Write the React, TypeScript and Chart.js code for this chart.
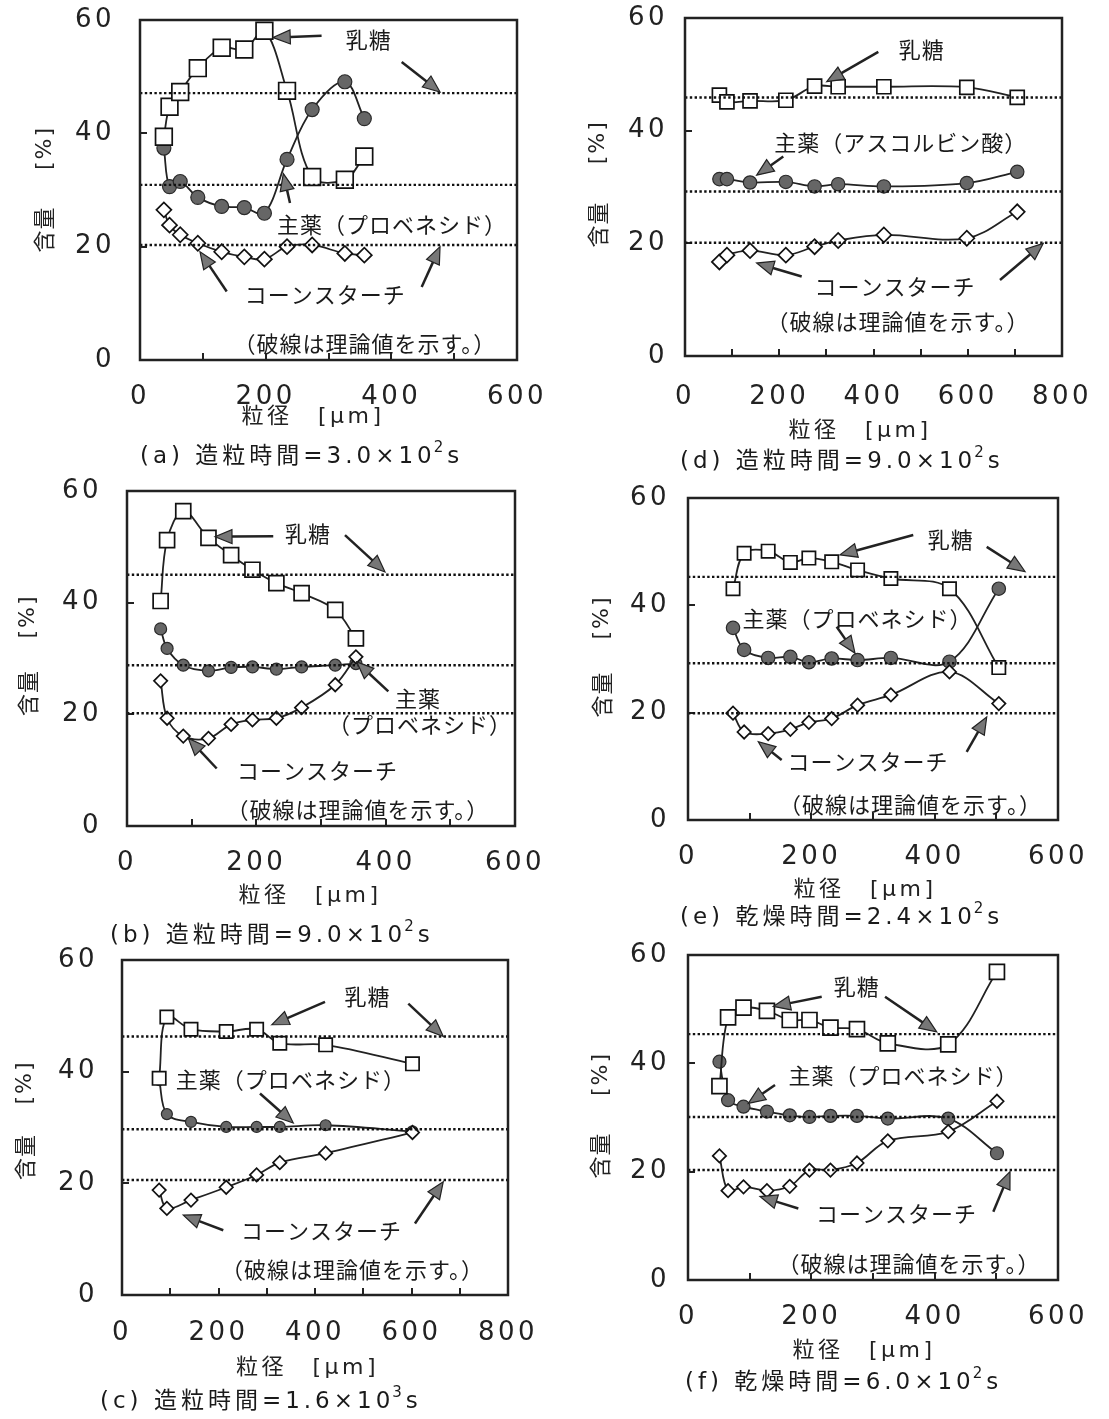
import React, { useEffect, useRef } from 'react';
import { Chart, registerables } from 'chart.js';

Chart.register(...registerables);

// ------------------------------------------------------------------
// Data. x = particle size [µm], y = content [%]
// ------------------------------------------------------------------

// (a) 造粒時間 3.0×10^2 s
const sizeA = [38, 47, 64, 92, 130, 166, 198, 234, 274, 326, 357];
const lactoseA = [39.4, 44.7, 47.3, 51.5, 55.1, 54.8, 58.1, 47.5, 32.3, 31.8, 35.9];
const drugA = [37.4, 30.6, 31.5, 28.7, 27.1, 26.9, 25.9, 35.4, 44.2, 49.1, 42.6];
const starchA = [26.5, 23.8, 22.1, 20.6, 19.1, 18.2, 17.8, 20.0, 20.3, 18.8, 18.5];
const theoryA = [47.1, 30.9, 20.3];

// (b) 造粒時間 9.0×10^2 s
const sizeB = [52, 62, 87, 126, 161, 194, 231, 270, 322, 354];
const lactoseB = [40.3, 51.2, 56.4, 51.6, 48.5, 45.9, 43.5, 41.7, 38.7, 33.6];
const drugB = [35.3, 31.8, 28.8, 27.8, 28.4, 28.5, 28.1, 28.5, 28.8, 29.1];
const starchB = [26.0, 19.3, 16.1, 15.7, 18.2, 19.0, 19.3, 21.2, 25.3, 30.3];
const theoryB = [45.0, 28.8, 20.2];

// (c) 造粒時間 1.6×10^3 s
const sizeC = [77, 93, 143, 216, 279, 327, 422, 602];
const lactoseC = [38.8, 49.8, 47.6, 47.2, 47.6, 45.1, 44.8, 41.4];
const drugC = [38.5, 32.4, 31.0, 30.1, 30.1, 30.1, 30.4, 29.3];
const starchC = [18.8, 15.5, 17.0, 19.3, 21.5, 23.7, 25.4, 29.1];
const theoryC = [46.3, 29.7, 20.6];

// (d) 造粒時間 9.0×10^2 s (アスコルビン酸)
const sizeD = [73, 89, 138, 214, 275, 325, 422, 598, 705];
const lactoseD = [46.3, 45.1, 45.3, 45.4, 47.9, 47.8, 47.8, 47.7, 45.9];
const drugD = [31.4, 31.4, 30.8, 30.9, 30.1, 30.5, 30.1, 30.7, 32.7];
const starchD = [16.7, 17.9, 18.7, 17.9, 19.4, 20.5, 21.5, 20.9, 25.6];
const theoryD = [45.9, 29.2, 20.1];

// (e) 乾燥時間 2.4×10^2 s
const sizeE = [73, 91, 130, 166, 196, 233, 275, 329, 424, 504];
const lactoseE = [43.1, 49.7, 50.1, 48.0, 48.8, 48.1, 46.6, 45.0, 43.1, 28.4];
const drugE = [35.8, 31.7, 30.2, 30.4, 29.4, 30.1, 29.8, 30.2, 29.5, 43.1];
const starchE = [19.9, 16.4, 16.1, 16.9, 18.2, 18.9, 21.4, 23.3, 27.6, 21.7];
const theoryE = [45.3, 29.2, 19.9];

// (f) 乾燥時間 6.0×10^2 s
const sizeF = [51, 65, 90, 128, 165, 197, 231, 274, 324, 422, 501];
const lactoseF = [35.8, 48.5, 50.3, 49.7, 48.0, 48.0, 46.6, 46.3, 43.7, 43.5, 56.9];
const drugF = [40.3, 33.2, 32.0, 31.1, 30.4, 30.1, 30.3, 30.3, 29.8, 29.8, 23.4];
const starchF = [22.9, 16.5, 17.2, 16.5, 17.3, 20.3, 20.3, 21.6, 25.7, 27.4, 33.0];
const theoryF = [45.4, 30.1, 20.3];

// Texts
const Y_TITLE_WORD = '含量';
const Y_TITLE_UNIT = '[%]';
const X_TITLE = '粒径　[μm]';
const T_LACTOSE = '乳糖';
const T_PROBENECID = '主薬（プロベネシド）';
const T_ASCORBIC = '主薬（アスコルビン酸）';
const T_STARCH = 'コーンスターチ';
const T_NOTE = '（破線は理論値を示す。）';

// ------------------------------------------------------------------
type Note = { text: string; x: number; y: number };
type Arrow = [number, number, number, number];

const panels = [
  {
    id: 'a', xs: sizeA, lactose: lactoseA, drug: drugA, starch: starchA, theory: theoryA, xMax: 600,
    caption: ['(a) 造粒時間=3.0×10', '2', 's'],
    notes: [
      { text: T_LACTOSE, x: 364, y: 56.5 },
      { text: T_PROBENECID, x: 401, y: 23.8 },
      { text: T_STARCH, x: 295, y: 11.6 },
      { text: T_NOTE, x: 358, y: 2.8 },
    ] as Note[],
    arrows: [
      [289, 57.2, 212, 56.9], [416.5, 52.6, 477.5, 47.3], [238.7, 27.7, 228.1, 32.9],
      [138, 12.1, 95.5, 19.1], [448.3, 12.9, 477.5, 20.0],
    ] as Arrow[],
    geom: { left: 0, top: 0, width: 560, height: 480, boxL: 140, boxT: 20, boxR: 517, boxB: 360 },
    pads: { xTick: 28.4, yTick: 32 },
    xTitle: { dx: 173, dy: 57 },
    yTitle: { dx: -96, unitDy: 129, wordDy: 210 },
    cap: { dx: 0, dy: 97 },
    marker: { sq: 11.8, dia: 7.5, dot: 7 },
  },
  {
    id: 'b', xs: sizeB, lactose: lactoseB, drug: drugB, starch: starchB, theory: theoryB, xMax: 600,
    caption: ['(b) 造粒時間=9.0×10', '2', 's'],
    notes: [
      { text: T_LACTOSE, x: 280, y: 52.3 },
      { text: '主薬', x: 450, y: 22.9 },
      { text: '（プロベネシド）', x: 453, y: 18.1 },
      { text: T_STARCH, x: 294.4, y: 9.85 },
      { text: T_NOTE, x: 357, y: 3.0 },
    ] as Note[],
    arrows: [
      [226.2, 51.9, 136.1, 51.8], [337.1, 52.1, 399, 45.5], [404.1, 24.1, 355.2, 29.4],
      [138.7, 10.3, 94.8, 15.7],
    ] as Arrow[],
    geom: { left: 0, top: 471, width: 560, height: 480, boxL: 127, boxT: 491, boxR: 515, boxB: 826 },
    pads: { xTick: 28.4, yTick: 32 },
    xTitle: { dx: 183, dy: 70.7 },
    yTitle: { dx: -99.5, unitDy: 126.5, wordDy: 202.5 },
    cap: { dx: -17, dy: 109.7 },
    marker: { sq: 10.6, dia: 6.7, dot: 6 },
  },
  {
    id: 'c', xs: sizeC, lactose: lactoseC, drug: drugC, starch: starchC, theory: theoryC, xMax: 800,
    caption: ['(c) 造粒時間=1.6×10', '3', 's'],
    notes: [
      { text: T_LACTOSE, x: 508.8, y: 53.4 },
      { text: T_PROBENECID, x: 350, y: 38.5 },
      { text: T_STARCH, x: 413.5, y: 11.6 },
      { text: T_NOTE, x: 477.7, y: 4.5 },
    ] as Note[],
    arrows: [
      [420.7, 52.5, 310.3, 48.4], [593.4, 52.2, 665.9, 46.3], [286, 36.1, 355, 30.8],
      [209.9, 11.6, 127, 14.3], [607.2, 12.8, 665.9, 20.3],
    ] as Arrow[],
    geom: { left: 0, top: 940, width: 560, height: 475, boxL: 122, boxT: 960, boxR: 508, boxB: 1295 },
    pads: { xTick: 29.4, yTick: 31 },
    xTitle: { dx: 185.5, dy: 73 },
    yTitle: { dx: -97.5, unitDy: 123.5, wordDy: 197.5 },
    cap: { dx: -22, dy: 106.7 },
    marker: { sq: 9.4, dia: 6.7, dot: 5.5 },
  },
  {
    id: 'd', xs: sizeD, lactose: lactoseD, drug: drugD, starch: starchD, theory: theoryD, xMax: 800,
    caption: ['(d) 造粒時間=9.0×10', '2', 's'],
    notes: [
      { text: T_LACTOSE, x: 502.3, y: 54.3 },
      { text: T_ASCORBIC, x: 458, y: 37.8 },
      { text: T_STARCH, x: 445.6, y: 12.3 },
      { text: T_NOTE, x: 452, y: 6.1 },
    ] as Note[],
    arrows: [
      [410.2, 54.0, 300.7, 48.7], [208.6, 35.4, 152.1, 32.1],
      [247.6, 14.1, 152.1, 16.5], [668.4, 13.5, 760.3, 20.0],
    ] as Arrow[],
    geom: { left: 570, top: 0, width: 539, height: 476, boxL: 685, boxT: 18, boxR: 1062, boxB: 356 },
    pads: { xTick: 32.4, yTick: 24 },
    xTitle: { dx: 175, dy: 75.7 },
    yTitle: { dx: -87.5, unitDy: 125.3, wordDy: 207 },
    cap: { dx: -5, dy: 105.7 },
    marker: { sq: 9.9, dia: 7.5, dot: 6.7 },
  },
  {
    id: 'e', xs: sizeE, lactose: lactoseE, drug: drugE, starch: starchE, theory: theoryE, xMax: 600,
    caption: ['(e) 乾燥時間=2.4×10', '2', 's'],
    notes: [
      { text: T_LACTOSE, x: 426.2, y: 52.2 },
      { text: T_PROBENECID, x: 275, y: 37.6 },
      { text: T_STARCH, x: 291.9, y: 10.9 },
      { text: T_NOTE, x: 360.8, y: 2.8 },
    ] as Note[],
    arrows: [
      [365.3, 53.1, 246.5, 49.4], [484.4, 50.9, 546.5, 46.3], [241.1, 36.0, 270.8, 31.1],
      [151.9, 11.2, 114, 14.6], [451.9, 12.7, 484.4, 19.2],
    ] as Arrow[],
    geom: { left: 570, top: 478, width: 539, height: 462, boxL: 688, boxT: 498, boxR: 1058, boxB: 820 },
    pads: { xTick: 28.4, yTick: 25 },
    xTitle: { dx: 177, dy: 70 },
    yTitle: { dx: -86.5, unitDy: 120.5, wordDy: 197 },
    cap: { dx: -8, dy: 98 },
    marker: { sq: 9.4, dia: 6.7, dot: 6.7 },
  },
  {
    id: 'f', xs: sizeF, lactose: lactoseF, drug: drugF, starch: starchF, theory: theoryF, xMax: 600,
    caption: ['(f) 乾燥時間=6.0×10', '2', 's'],
    notes: [
      { text: T_LACTOSE, x: 273.6, y: 54.1 },
      { text: T_PROBENECID, x: 349.5, y: 37.8 },
      { text: T_STARCH, x: 338.1, y: 12.2 },
      { text: T_NOTE, x: 358.4, y: 3.1 },
    ] as Note[],
    arrows: [
      [216.8, 52.3, 138.3, 50.5], [319.5, 52.3, 403.3, 45.8], [141.1, 36.0, 97.8, 32.6],
      [178.9, 13.2, 116.8, 15.4], [495.1, 12.6, 522.2, 20.0],
    ] as Arrow[],
    geom: { left: 570, top: 935, width: 539, height: 465, boxL: 688, boxT: 955, boxR: 1058, boxB: 1280 },
    pads: { xTick: 28.4, yTick: 25 },
    xTitle: { dx: 176, dy: 71.7 },
    yTitle: { dx: -88, unitDy: 120, wordDy: 201 },
    cap: { dx: -3, dy: 103 },
    marker: { sq: 10.6, dia: 6.7, dot: 6.5 },
  },
];

type Panel = typeof panels[number];

const INK = '#222';
const JP = '"Noto Sans CJK JP"';
const NUM = '"DejaVu Sans"';

function drawArrow(ctx: CanvasRenderingContext2D, x1: number, y1: number, x2: number, y2: number) {
  const ang = Math.atan2(y2 - y1, x2 - x1);
  const hl = 17;
  const hw = 7;
  const bx = x2 - hl * Math.cos(ang);
  const by = y2 - hl * Math.sin(ang);
  ctx.beginPath();
  ctx.moveTo(x1, y1);
  ctx.lineTo(bx, by);
  ctx.lineWidth = 2.5;
  ctx.strokeStyle = INK;
  ctx.stroke();
  ctx.beginPath();
  ctx.moveTo(x2, y2);
  ctx.lineTo(bx + hw * Math.sin(ang), by - hw * Math.cos(ang));
  ctx.lineTo(bx - hw * Math.sin(ang), by + hw * Math.cos(ang));
  ctx.closePath();
  ctx.fillStyle = '#777';
  ctx.fill();
  ctx.lineWidth = 1.2;
  ctx.stroke();
}

// vertical (rotated -90°) text; `lift` = distance of the glyph centre above the alphabetic baseline
function drawVertical(
  ctx: CanvasRenderingContext2D, text: string, font: string, spacing: number,
  lift: number, cx: number, cy: number,
) {
  ctx.save();
  (ctx as any).letterSpacing = spacing + 'px';
  ctx.font = font;
  ctx.translate(cx, cy);
  ctx.rotate(-Math.PI / 2);
  ctx.textAlign = 'left';
  ctx.textBaseline = 'alphabetic';
  const w = ctx.measureText(text).width - spacing;
  ctx.fillStyle = INK;
  ctx.fillText(text, -w / 2, lift);
  ctx.restore();
}

function PanelChart({ p }: { p: Panel }) {
  const ref = useRef<HTMLCanvasElement>(null);
  const g = p.geom;

  useEffect(() => {
    const canvas = ref.current;
    if (!canvas) return;
    const yAxisW = g.boxL - g.left;
    const xAxisH = g.top + g.height - g.boxB;

    const pts = (ys: number[]) => p.xs.map((x, i) => ({ x, y: ys[i] }));

    const seriesBase = {
      borderColor: '#222',
      borderWidth: 1.8,
      tension: 0.35,
      fill: false,
      pointBorderColor: '#111',
    };

    const theoryDatasets = p.theory.map((v) => ({
      type: 'line' as const,
      data: [{ x: 0, y: v }, { x: p.xMax, y: v }],
      borderColor: '#111',
      borderWidth: 2.4,
      borderDash: [2.4, 2.4],
      pointRadius: 0,
      tension: 0,
      fill: false,
      order: -1,
    }));

    const decor = {
      id: 'decor' + p.id,
      beforeDraw(chart: any) {
        (chart.ctx as any).letterSpacing = '3.5px';
      },
      afterDatasetsDraw(chart: any) {
        const { ctx, chartArea: a } = chart;
        ctx.save();
        ctx.lineWidth = 2.5;
        ctx.strokeStyle = INK;
        ctx.strokeRect(a.left, a.top, a.right - a.left, a.bottom - a.top);
        ctx.restore();
      },
      afterDraw(chart: any) {
        const ctx: CanvasRenderingContext2D = chart.ctx;
        const xs = chart.scales.x;
        const ys = chart.scales.y;
        const a = chart.chartArea;
        ctx.save();
        // y-axis title (vertical)
        const tx = a.left + p.yTitle.dx;
        drawVertical(ctx, Y_TITLE_UNIT, `22px ${NUM}`, 2, 6.8, tx, a.top + p.yTitle.unitDy);
        drawVertical(ctx, Y_TITLE_WORD, `22px ${JP}`, 1, 8.4, tx, a.top + p.yTitle.wordDy);
        // x-axis title
        (ctx as any).letterSpacing = '3.5px';
        ctx.font = `22px ${NUM}, ${JP}`;
        ctx.fillStyle = INK;
        ctx.textAlign = 'center';
        ctx.textBaseline = 'middle';
        ctx.fillText(X_TITLE, a.left + p.xTitle.dx, a.bottom + p.xTitle.dy);
        // arrows
        for (const [x1, y1, x2, y2] of p.arrows) {
          drawArrow(ctx, xs.getPixelForValue(x1), ys.getPixelForValue(y1), xs.getPixelForValue(x2), ys.getPixelForValue(y2));
        }
        // labels
        (ctx as any).letterSpacing = '1px';
        ctx.font = `22px ${JP}`;
        ctx.fillStyle = '#1a1a1a';
        ctx.textAlign = 'center';
        ctx.textBaseline = 'middle';
        for (const n of p.notes) {
          ctx.fillText(n.text, xs.getPixelForValue(n.x), ys.getPixelForValue(n.y));
        }
        // caption
        (ctx as any).letterSpacing = '4px';
        ctx.textAlign = 'left';
        let cx = a.left + p.cap.dx;
        const cy = a.bottom + p.cap.dy;
        const bigFont = `23px ${NUM}, ${JP}`;
        ctx.font = bigFont;
        ctx.fillText(p.caption[0], cx, cy);
        cx += ctx.measureText(p.caption[0]).width;
        ctx.font = `15px ${NUM}`;
        ctx.fillText(p.caption[1], cx - 2, cy - 9);
        cx += ctx.measureText(p.caption[1]).width - 2;
        ctx.font = bigFont;
        ctx.fillText(p.caption[2], cx, cy);
        ctx.restore();
        (ctx as any).letterSpacing = '0px';
      },
    };

    const chart = new Chart(canvas, {
      type: 'line',
      data: {
        datasets: [
          {
            ...seriesBase,
            label: T_LACTOSE,
            data: pts(p.lactose),
            pointStyle: 'rect',
            pointRadius: p.marker.sq,
            pointBackgroundColor: '#fff',
            pointBorderWidth: 1.7,
            order: 0,
          },
          {
            ...seriesBase,
            label: T_STARCH,
            data: pts(p.starch),
            pointStyle: 'rectRot',
            pointRadius: p.marker.dia,
            pointBackgroundColor: '#fff',
            pointBorderWidth: 1.7,
            order: 1,
          },
          {
            ...seriesBase,
            label: '主薬',
            data: pts(p.drug),
            pointStyle: 'circle',
            pointRadius: p.marker.dot,
            pointBackgroundColor: '#666',
            pointBorderColor: '#2a2a2a',
            pointBorderWidth: 1.2,
            order: 2,
          },
          ...theoryDatasets,
        ] as any,
      },
      options: {
        responsive: false,
        animation: false,
        devicePixelRatio: 1,
        layout: {
          autoPadding: false,
          padding: { left: 0, top: g.boxT - g.top, right: g.left + g.width - g.boxR, bottom: 0 },
        },
        plugins: { legend: { display: false }, tooltip: { enabled: false } },
        scales: {
          x: {
            type: 'linear',
            position: 'bottom',
            min: 0,
            max: p.xMax,
            afterFit: (s: any) => {
              s.height = xAxisH;
              s.paddingLeft = 0;
              s.paddingRight = 0;
            },
            ticks: {
              stepSize: 100,
              autoSkip: false,
              maxRotation: 0,
              padding: p.pads.xTick,
              color: INK,
              font: { family: NUM, size: 26 },
              callback: (v: any) => (Number(v) % 200 === 0 ? String(v) : ''),
            },
            grid: { display: true, drawOnChartArea: false, drawTicks: true, tickLength: -7, color: INK, lineWidth: 2 },
            border: { display: false },
            title: { display: false, text: X_TITLE },
          },
          y: {
            type: 'linear',
            position: 'left',
            min: 0,
            max: 60,
            afterFit: (s: any) => {
              s.width = yAxisW;
              s.paddingTop = 0;
              s.paddingBottom = 0;
            },
            ticks: {
              stepSize: 20,
              padding: p.pads.yTick,
              color: INK,
              font: { family: NUM, size: 26 },
            },
            grid: { display: true, drawOnChartArea: false, drawTicks: true, tickLength: -7, color: INK, lineWidth: 2 },
            border: { display: false },
            title: { display: false, text: Y_TITLE_WORD + ' ' + Y_TITLE_UNIT },
          },
        },
      } as any,
      plugins: [decor],
    });
    return () => chart.destroy();
  }, []);

  return (
    <canvas
      ref={ref}
      width={g.width}
      height={g.height}
      style={{ position: 'absolute', left: g.left, top: g.top, width: g.width, height: g.height }}
    />
  );
}

export default function App() {
  return (
    <div
      style={{
        position: 'absolute',
        left: 0,
        top: 0,
        width: 1109,
        height: 1419,
        overflow: 'hidden',
        background: '#fff',
      }}
    >
      {panels.map((p) => (
        <PanelChart key={p.id} p={p} />
      ))}
    </div>
  );
}
